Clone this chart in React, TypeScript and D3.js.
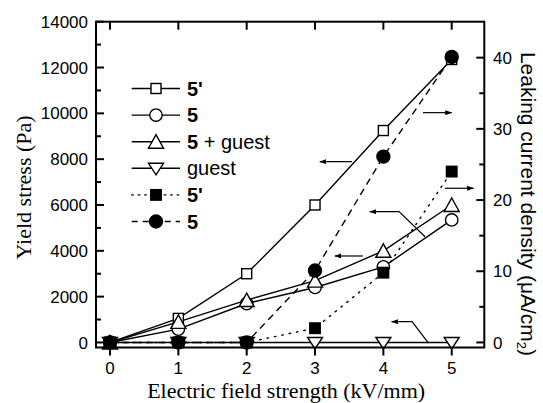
import React from 'react';
import * as d3 from 'd3';

// ---- data ----
const fieldStrength = [0, 1, 2, 3, 4, 5];
const stress5Prime = [0, 1050, 3000, 6000, 9250, 12350];
const stress5 = [0, 580, 1700, 2400, 3300, 5350];
const stress5Guest = [0, 900, 1850, 2700, 4000, 6000];
const stressGuest = [0, 0, 0, 0, 0, 0];
const current5Prime = [0, 0, 0, 2.0, 9.8, 24.0];
const current5 = [0, 0, 0, 10.1, 26.1, 40.1];

const xTicks = [0, 1, 2, 3, 4, 5];
const yLeftTicks = [0, 2000, 4000, 6000, 8000, 10000, 12000, 14000];
const yLeftMinor = [1000, 3000, 5000, 7000, 9000, 11000, 13000];
const yRightTicks = [0, 10, 20, 30, 40];
const yRightMinor = [5, 15, 25, 35];

const legendBold = ["5'", '5', '5', '', "5'", '5'];
const legendRest = ['', '', ' + guest', 'guest', '', ''];

// annotation arrows in data units (x: field strength, y: yield stress), head at last point
const arrowPaths: [number, number][][] = [
  [[3.54, 7890], [3.07, 7890]],
  [[4.58, 10030], [5.0, 10030]],
  [[4.61, 4616], [4.23, 5708], [3.80, 5708]],
  [[4.90, 6730], [5.32, 6730]],
  [[3.70, 3774], [3.29, 3774]],
  [[4.66, -30], [4.42, 906], [4.12, 906]],
];

type Shape = 'square' | 'circle' | 'up' | 'down';

const series = [
  { values: stress5Prime, axis: 'L', shape: 'square' as Shape, filled: false, dash: '' },
  { values: stress5, axis: 'L', shape: 'circle' as Shape, filled: false, dash: '' },
  { values: stress5Guest, axis: 'L', shape: 'up' as Shape, filled: false, dash: '' },
  { values: stressGuest, axis: 'L', shape: 'down' as Shape, filled: false, dash: '' },
  { values: current5Prime, axis: 'R', shape: 'square' as Shape, filled: true, dash: 'dot' },
  { values: current5, axis: 'R', shape: 'circle' as Shape, filled: true, dash: 'dash' },
];

const W = 543;
const H = 403;
const L = 96, R = 484.3, T = 21.7, B = 347.5;

const x = d3.scaleLinear().domain([-0.205, 5.477]).range([L, R]);
const yL = d3.scaleLinear().domain([-220, 14000]).range([B, T]);
const yR = d3.scaleLinear().domain([-0.71, 45.05]).range([B, T]);

function Marker({ shape, cx, cy, filled }: { shape: Shape; cx: number; cy: number; filled: boolean }) {
  const fill = filled ? '#000' : '#fff';
  const common = { fill, stroke: '#000', strokeWidth: 1.4 };
  if (shape === 'square') {
    const s = filled ? 10.5 : 10;
    return <rect x={cx - s / 2} y={cy - s / 2} width={s} height={s} {...common} />;
  }
  if (shape === 'circle') {
    return <circle cx={cx} cy={cy} r={filled ? 6.5 : 6.2} {...common} />;
  }
  if (shape === 'up') {
    return <path d={`M${cx},${cy - 7} L${cx + 7.5},${cy + 6.5} L${cx - 7.5},${cy + 6.5} Z`} {...common} />;
  }
  return <path d={`M${cx},${cy + 6.5} L${cx + 7.5},${cy - 5} L${cx - 7.5},${cy - 5} Z`} {...common} />;
}

function dashOf(d: string) {
  if (d === 'dot') return '1.5 6';
  if (d === 'dash') return '7 5';
  return undefined;
}

export default function App() {
  const sans = "'Liberation Sans', Arial, sans-serif";
  const serif = "'Liberation Serif', 'Times New Roman', serif";
  const line = d3.line<[number, number]>().x(d => d[0]).y(d => d[1]);

  return (
    <svg width={W} height={H} style={{ position: 'absolute', left: 0, top: 0, background: '#fff' }}>
      <defs>
        <marker id="ah" viewBox="0 0 7 5" refX="6.5" refY="2.5" markerWidth="7" markerHeight="5" markerUnits="userSpaceOnUse" orient="auto">
          <path d="M0,0 L7,2.5 L0,5 Z" fill="#000" />
        </marker>
      </defs>

      {/* data lines */}
      {series.map((s, i) => {
        const ys = s.axis === 'L' ? yL : yR;
        const pts = fieldStrength.map((f, j) => [x(f), ys(s.values[j])] as [number, number]);
        return (
          <path key={'l' + i} d={line(pts) || ''} fill="none" stroke="#000" strokeWidth={1.4}
            strokeDasharray={dashOf(s.dash)} strokeLinecap={s.dash === 'dot' ? 'round' : 'butt'} />
        );
      })}

      {/* annotation arrows */}
      {arrowPaths.map((p, i) => (
        <path key={'a' + i} d={line(p.map(q => [x(q[0]), yL(q[1])] as [number, number])) || ''}
          fill="none" stroke="#000" strokeWidth={1.2} markerEnd="url(#ah)" />
      ))}

      {/* markers */}
      {series.map((s, i) => {
        const ys = s.axis === 'L' ? yL : yR;
        return fieldStrength.map((f, j) => (
          <Marker key={'m' + i + '-' + j} shape={s.shape} cx={x(f)} cy={ys(s.values[j])} filled={s.filled} />
        ));
      })}

      {/* frame */}
      <rect x={L} y={T} width={R - L} height={B - T} fill="none" stroke="#000" strokeWidth={2} />

      {/* x ticks: bottom outward, top inward */}
      {xTicks.map(t => (
        <g key={'xt' + t}>
          <line x1={x(t)} x2={x(t)} y1={B} y2={B + 8} stroke="#000" strokeWidth={2} />
          <line x1={x(t)} x2={x(t)} y1={T} y2={T + 8} stroke="#000" strokeWidth={2} />
          <text x={x(t)} y={374} textAnchor="middle" fontFamily={sans} fontSize={17}>{t}</text>
        </g>
      ))}

      {/* left ticks inward */}
      {yLeftTicks.map(t => (
        <g key={'yl' + t}>
          <line x1={L} x2={L + 8} y1={yL(t)} y2={yL(t)} stroke="#000" strokeWidth={2} />
          <text x={88} y={yL(t)} dy="0.36em" textAnchor="end" fontFamily={sans} fontSize={17}>{t}</text>
        </g>
      ))}
      {yLeftMinor.map(t => (
        <line key={'ylm' + t} x1={L} x2={L + 5} y1={yL(t)} y2={yL(t)} stroke="#000" strokeWidth={2} />
      ))}

      {/* right ticks inward */}
      {yRightTicks.map(t => (
        <g key={'yr' + t}>
          <line x1={R} x2={R - 8} y1={yR(t)} y2={yR(t)} stroke="#000" strokeWidth={2} />
          <text x={493} y={yR(t)} dy="0.36em" textAnchor="start" fontFamily={sans} fontSize={17}>{t}</text>
        </g>
      ))}
      {yRightMinor.map(t => (
        <line key={'yrm' + t} x1={R} x2={R - 5} y1={yR(t)} y2={yR(t)} stroke="#000" strokeWidth={2} />
      ))}

      {/* axis titles */}
      <text x={(L + R) / 2 - 4} y={398} textAnchor="middle" fontFamily={serif} fontSize={22}>
        Electric field strength (kV/mm)
      </text>
      <text transform={`translate(31,187.5) rotate(-90)`} textAnchor="middle" fontFamily={serif} fontSize={22}>
        Yield stress (Pa)
      </text>
      <text transform={`translate(521,204) rotate(90)`} textAnchor="middle" fontFamily={sans} fontSize={21}>
        Leaking current density (μA/cm<tspan fontSize={13} dy="4">2</tspan><tspan dy="-4">)</tspan>
      </text>

      {/* legend */}
      {series.map((s, i) => {
        const ly = 88.5 + i * 26.6;
        return (
          <g key={'lg' + i}>
            <line x1={131.7} x2={180} y1={ly} y2={ly} stroke="#000" strokeWidth={1.4}
              strokeDasharray={s.dash === 'dot' ? '1.5 5' : s.dash === 'dash' ? '6 5' : undefined}
              strokeLinecap={s.dash === 'dot' ? 'round' : 'butt'} />
            <Marker shape={s.shape} cx={156} cy={ly} filled={s.filled} />
            <text x={187} y={ly + 7} fontFamily={sans} fontSize={20}>
              {legendBold[i] ? <tspan fontWeight="bold">{legendBold[i]}</tspan> : null}
              {legendRest[i] ? <tspan>{legendRest[i]}</tspan> : null}
            </text>
          </g>
        );
      })}
    </svg>
  );
}
